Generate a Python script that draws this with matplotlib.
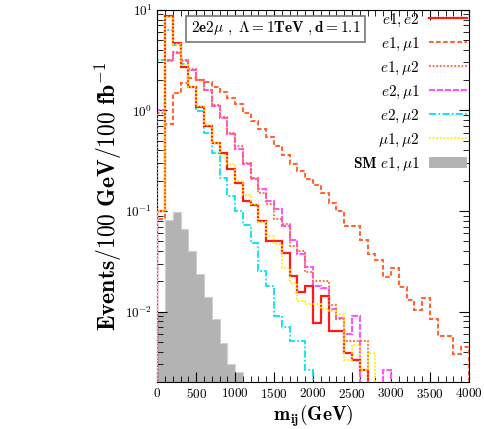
import matplotlib
matplotlib.use('Agg')
import matplotlib.pyplot as plt
import numpy as np
from matplotlib.ticker import MultipleLocator, LogLocator, NullFormatter

plt.rcParams['font.family'] = 'serif'
plt.rcParams['font.serif'] = ['cmr10']
plt.rcParams['mathtext.fontset'] = 'cm'
plt.rcParams['axes.formatter.use_mathtext'] = True
plt.rcParams['axes.unicode_minus'] = False

# bin edges, 100 GeV bins from 0 to 4000
edges = np.arange(0, 4001, 100)

# events per bin (0 = empty bin)
e1e2 = [0.1, 8.6, 4.7, 2.7, 1.7, 1.07, 0.7, 0.477, 0.38, 0.26,
        0.19, 0.126, 0.114, 0.079, 0.05, 0.05, 0.0385, 0.0226, 0.0155, 0.018,
        0.0077, 0.0144, 0.0064, 0.0064, 0.0039, 0.0033, 0.0026, 0, 0, 0,
        0, 0, 0, 0, 0, 0, 0, 0, 0, 0]
e1mu1 = [0.083, 0.74, 1.5, 1.88, 2.1, 2.03, 1.91, 1.72, 1.52, 1.34,
         1.15, 0.95, 0.79, 0.66, 0.55, 0.44, 0.36, 0.29, 0.25, 0.21,
         0.18, 0.15, 0.12, 0.1, 0.071, 0.071, 0.052, 0.0376, 0.0324, 0.0218,
         0.0274, 0.0176, 0.0129, 0.0103, 0.0135, 0.0084, 0.0057, 0.0057, 0.0038, 0.0044]
e1mu2 = [0.95, 3.1, 3.8, 3.1, 2.6, 2.0, 1.6, 1.12, 0.86, 0.6,
         0.44, 0.3, 0.21, 0.152, 0.116, 0.083, 0.075, 0.045, 0.04, 0.025,
         0.02, 0.02, 0.0115, 0.0084, 0.0051, 0.0051, 0.0051, 0, 0, 0,
         0, 0, 0, 0, 0, 0, 0, 0, 0, 0]
e2mu1 = [1.0, 3.2, 3.75, 3.2, 2.55, 2.03, 1.6, 1.1, 0.85, 0.58,
         0.41, 0.29, 0.215, 0.165, 0.126, 0.104, 0.071, 0.051, 0.037, 0.028,
         0.018, 0.017, 0.0105, 0.0087, 0.006, 0.0091, 0, 0, 0, 0.0026,
         0, 0, 0, 0, 0, 0, 0, 0, 0, 0]
e2mu2 = [3.2, 6.3, 4.5, 2.9, 1.7, 0.98, 0.6, 0.38, 0.214, 0.14,
         0.1, 0.072, 0.048, 0.0254, 0.018, 0.0091, 0.007, 0.0051, 0.0051, 0.0026,
         0, 0, 0, 0, 0, 0, 0, 0, 0, 0,
         0, 0, 0, 0, 0, 0, 0, 0, 0, 0]
mu1mu2 = [0.1, 8.4, 4.6, 2.8, 1.7, 1.1, 0.72, 0.47, 0.36, 0.29,
          0.2, 0.145, 0.116, 0.077, 0.056, 0.047, 0.027, 0.019, 0.0128, 0.012,
          0.012, 0.0106, 0.0102, 0.0095, 0.0033, 0.0046, 0.0026, 0.0039, 0, 0,
          0, 0, 0, 0, 0, 0, 0, 0, 0, 0]
sm_e1mu1 = [0.01, 0.081, 0.097, 0.066, 0.04, 0.0236, 0.0138, 0.0084, 0.0049, 0.003,
            0.0025, 0, 0, 0, 0, 0, 0, 0, 0, 0,
            0, 0, 0, 0, 0, 0, 0, 0, 0, 0,
            0, 0, 0, 0, 0, 0, 0, 0, 0, 0]

fig = plt.figure(figsize=(4.85, 4.29), dpi=100)
ax = fig.add_axes([0.324, 0.110, 0.643, 0.867])
ax.set_yscale('log', nonpositive='clip')

ax.stairs(sm_e1mu1, edges, fill=True, baseline=1e-6, color='#b3b3b3',
          label=r'$\mathbf{SM}\ e1,\mu1$', zorder=1)
ax.stairs(sm_e1mu1, edges, baseline=1e-6, color='#d0d0d0', lw=0.8, zorder=1)
ax.stairs(e1e2, edges, baseline=1e-6, color='#ff1a1a', lw=1.6, ls='-',
          label=r'$e1,e2$', zorder=3)
ax.stairs(e1mu1, edges, baseline=1e-6, color='#ff6633', lw=1.5, ls=(0, (2.2, 1.2)),
          label=r'$e1,\mu1$', zorder=3)
ax.stairs(e1mu2, edges, baseline=1e-6, color='#ff6633', lw=1.3, ls=(0, (1, 1)),
          label=r'$e1,\mu2$', zorder=4)
ax.stairs(e2mu1, edges, baseline=1e-6, color='#ff55ff', lw=1.5, ls=(0, (3, 0.8)),
          label=r'$e2,\mu1$', zorder=2)
ax.stairs(e2mu2, edges, baseline=1e-6, color='#00e5ee', lw=1.3, ls=(0, (4, 1.2, 1, 1.2)),
          label=r'$e2,\mu2$', zorder=2)
ax.stairs(mu1mu2, edges, baseline=1e-6, color='#ffee00', lw=1.3, ls=(0, (1, 1)),
          label=r'$\mu1,\mu2$', zorder=4)

ax.set_xlim(0, 4000)
ax.set_ylim(0.002, 10)
ax.xaxis.set_major_locator(MultipleLocator(500))
ax.xaxis.set_minor_locator(MultipleLocator(100))
ax.yaxis.set_major_locator(LogLocator(base=10, numticks=10))
ax.yaxis.set_minor_locator(LogLocator(base=10, subs=np.arange(2, 10), numticks=20))
ax.yaxis.set_minor_formatter(NullFormatter())
ax.tick_params(which='both', direction='in', top=True, right=True, labelsize=9.5)
ax.tick_params(which='major', length=7)
ax.tick_params(which='minor', length=4)

ax.set_xlabel(r'$\mathbf{m_{ij}(GeV)}$', fontsize=14, labelpad=1)
ax.set_ylabel(r'$\mathbf{Events/100\ GeV/100\ fb^{-1}}$', fontsize=17, labelpad=1)

handles, labels = ax.get_legend_handles_labels()
order = [1, 2, 3, 4, 5, 6, 0]
ax.legend([handles[i] for i in order], [labels[i] for i in order],
          loc='upper right', frameon=False, markerfirst=False, fontsize=11,
          handlelength=2.5, labelspacing=0.45, borderaxespad=0.0,
          borderpad=0.1, handletextpad=0.6)

ax.text(0.38, 0.949, r'$\mathbf{2e2\mu\ ,\ \Lambda = 1TeV\ ,d = 1.1}$',
        transform=ax.transAxes, ha='center', va='center', fontsize=11,
        bbox=dict(boxstyle='square,pad=0.3', fc='white', ec='#777777', lw=1.2))

plt.savefig('out.png', dpi=100)
